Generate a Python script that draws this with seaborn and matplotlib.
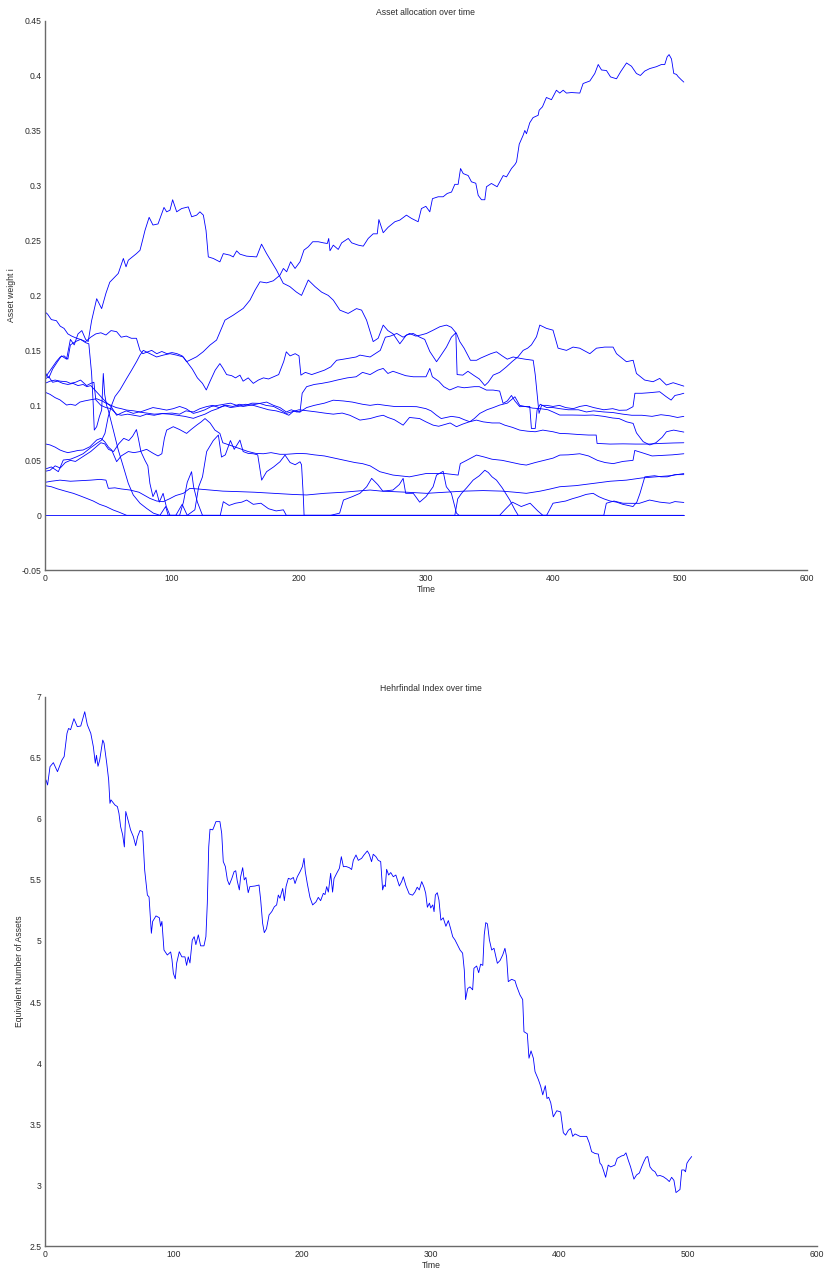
import numpy as np
import pandas as pd
import matplotlib
matplotlib.use("Agg")
import matplotlib.pyplot as plt
import seaborn as sns

# ---------------- data: asset weights (time, weight) ----------------
asset_01 = [(0, .042), (5, .044), (10.5, .0397), (14.4, .0503), (20, .051), (25, .0533), (30, .056), (35.4, .061),
            (40.7, .0654), (44.6, .0685), (47.2, .0745), (49.8, .0897), (52.5, .1003), (55.1, .108), (59, .114),
            (64.3, .1245), (68.2, .132), (72.2, .14), (74.8, .1457), (77.4, .150), (82.6, .147), (87.9, .144),
            (93.1, .1457), (98.4, .147), (103.6, .1457), (108.9, .144), (111.5, .1397), (119.4, .1442), (124.6, .1488),
            (129.9, .1548), (135.1, .1594), (139, .170), (141.7, .1775), (148.2, .182), (156.1, .1882), (161.4, .1957),
            (165.4, .2048), (169.3, .2124), (174.5, .2114), (179.8, .2133), (185, .2184), (187.7, .2245), (190.3, .2215),
            (193.4, .2306), (196.9, .2245), (200.8, .2306), (203.9, .2412), (207.3, .2442), (210.8, .2488), (215.2, .2488),
            (219.2, .2478), (222.3, .2472), (223.4, .2518), (224.4, .2406), (227, .2457), (230.9, .2418), (233.6, .2478),
            (238.8, .2518), (241.5, .2478), (246.7, .2457), (250.6, .2448), (254.5, .2518), (258.4, .256), (261.6, .256),
            (262.9, .269), (266.3, .257), (270.2, .262), (275.5, .267), (279.4, .2685), (284.6, .273), (288.6, .27),
            (293.8, .267), (296.4, .279), (299.9, .281), (303, .276), (305.1, .288), (309.6, .2897), (313.5, .2897),
            (316.7, .2927), (320.1, .294), (322.7, .301), (325.3, .301), (327.2, .3154), (329.3, .3108), (333.2, .309),
            (335.8, .3033), (339.2, .302), (341.1, .291), (343.7, .287), (346.3, .287), (347.6, .2988), (351.5, .3018),
            (356, .2988), (360.8, .309), (363.4, .3078), (367.3, .3154), (370, .319), (371.3, .3215), (373.4, .3375),
            (376.5, .3457), (377.8, .350), (379.1, .347), (381.7, .357), (384.3, .3617), (388.3, .3638), (389.1, .3684),
            (391.7, .3715), (394.8, .38), (398.8, .378), (402.7, .3866), (405.3, .384), (408, .3866), (410.6, .384),
            (414.5, .3845), (421.1, .384), (423.7, .3927), (429, .395), (432.9, .4018), (435.6, .410), (438.2, .405),
            (442.1, .4045), (445.3, .3987), (450, .397), (453.2, .4033), (457.9, .4114), (461.8, .4084), (465.7, .4018),
            (468.8, .400), (472.2, .404), (476.2, .4063), (481.4, .408), (485.4, .410), (488, .410), (489.9, .417),
            (491.4, .419), (493.3, .415), (495.1, .4018), (497.2, .401), (498.5, .399), (501.1, .396), (503, .394)]

asset_02 = [(0, .13), (3, .125), (6, .133), (10, .14), (13, .145), (17, .142), (20, .16), (23, .155), (26, .165),
            (29, .168), (32, .16), (34, .158), (36.7, .177), (40.7, .197), (44.6, .188), (48, .202), (51, .212),
            (57.7, .22), (61.7, .2336), (63.8, .226), (65.6, .232), (72, .238), (74.8, .241), (77, .251), (78.7, .259),
            (82, .271), (85, .264), (89, .265), (93.7, .28), (95.8, .276), (98.4, .2775), (100.5, .287), (103.7, .276),
            (107.6, .279), (112.8, .2805), (115.5, .2715), (119.4, .273), (122, .276), (124.7, .273), (126.8, .259),
            (128.6, .235), (132.5, .2336), (137.7, .2305), (140.4, .238), (145.6, .2366), (148.2, .235), (150.9, .2405),
            (153.5, .2375), (158.7, .2357), (166.6, .235), (170.5, .2466), (174.5, .238), (178.4, .2305), (182.3, .223),
            (187.6, .211), (192.8, .208), (198, .203), (202, .2), (207.3, .214), (212.6, .208), (217.8, .203), (223, .2),
            (227, .1957), (232.2, .1866), (238.7, .1836), (245.3, .188), (249.3, .1866), (253.2, .1775), (258.4, .158),
            (262.3, .161), (266.3, .173), (270, .168), (274.1, .165), (279.4, .156), (284.6, .164), (289.9, .1654),
            (295.1, .162), (299, .16), (303, .149), (308.3, .1397), (310.9, .144), (316.1, .153), (320, .162),
            (323.5, .166), (324.5, .128), (329, .1275), (333, .131), (338, .127), (342, .124), (346.3, .118), (349, .121),
            (352.9, .1275), (358, .13), (363.3, .135), (368, .14), (372.5, .1442), (376.5, .150), (380, .152), (383, .155),
            (387, .1624), (389.6, .173), (394.9, .17), (400, .1684), (404, .152), (410.6, .150), (415.8, .153),
            (421, .152), (429, .147), (434.2, .152), (440.7, .153), (447.3, .153), (450, .147), (457.8, .1397),
            (463.1, .141), (465.7, .129), (472.2, .123), (478.8, .1215), (484, .1245), (489.3, .1185), (494.6, .1206),
            (503, .1175)]

asset_03 = [(0, .185), (2, .183), (5, .178), (9, .177), (12, .172), (15, .17), (18, .165), (21, .163), (25, .161),
            (28, .16), (32, .157), (34.5, .156), (36.7, .129), (38, .10), (38.8, .0775), (40.7, .0806), (42.8, .0897),
            (44.6, .0957), (45.9, .129), (47, .11), (48.5, .10), (49.8, .0957), (53.8, .0775), (57.7, .0594),
            (61.7, .0442), (65.6, .029), (69.5, .0185), (74.8, .011), (80, .0063), (85.3, .002), (90.5, 0), (95, .008),
            (97, 0), (103, 0), (108, .01), (112, 0), (118, .005), (121, .026), (124, .035), (127.3, .058), (132.5, .068),
            (136.5, .073), (139, .053), (142, .055), (146, .068), (149, .06), (153.5, .0684), (156, .058), (160, .0563),
            (164, .056), (167.5, .055), (170.6, .032), (174.5, .0397), (180, .044), (185, .0487), (189, .0548),
            (193, .048), (197, .046), (200.8, .0487), (202, .046), (203.4, .017), (204, 0), (215, 0), (225, 0),
            (232, .002), (235, .0139), (242, .017), (248, .02), (253.3, .026), (257.2, .0336), (262, .028), (266, .022),
            (274, .023), (279, .028), (282, .0336), (284, .02), (290, .02), (295, .012), (300, .017), (305.6, .026),
            (308.3, .0366), (313.5, .04), (316, .026), (320, .02), (324, .002), (326, 0), (358, 0), (362, .005),
            (368, .012), (375, .008), (382, .011), (388, .004), (392, 0), (503, 0)]

asset_04 = [(0, .065), (4, .064), (8, .062), (11.8, .0594), (15, .058), (18, .057), (22.3, .058), (26, .059),
            (30, .0594), (35.4, .0624), (40.7, .0685), (44, .07), (47, .067), (50, .062), (52.5, .0594), (56.4, .0488),
            (60, .054), (65.6, .058), (70, .057), (74.8, .058), (80, .06), (85.3, .0563), (89, .054), (92, .056),
            (94, .07), (95.8, .0775), (101, .0806), (106, .078), (111.5, .0745), (115, .078), (119.4, .082), (123, .085),
            (126, .088), (130, .084), (133.8, .0775), (137.7, .0745), (140, .066), (145, .064), (150, .062), (155, .06),
            (160, .058), (166, .0563), (172, .056), (178, .057), (185, .0555), (190, .0555), (196, .056), (200, .0563),
            (206, .056), (212, .055), (220, .054), (228, .052), (236, .05), (244, .048), (250, .047), (256, .045),
            (263.6, .0397), (274, .0366), (287, .035), (300, .038), (315, .038), (325.3, .0366), (327, .047),
            (332, .05), (339.8, .0548), (346, .053), (352, .051), (360, .05), (368, .048), (374, .0465), (379, .0457),
            (386, .048), (393, .05), (400, .052), (405.4, .0548), (412, .055), (421, .056), (428, .054), (435, .05),
            (441, .048), (447.4, .047), (455, .049), (463, .05), (464.4, .059), (470, .057), (478, .054),
            (486, .0545), (494, .055), (503, .056)]

asset_05 = [(0, .125), (3, .13), (6, .135), (9, .14), (12, .144), (15, .145), (18, .142), (20, .155), (24, .158),
            (28, .16), (32, .158), (36, .162), (40, .165), (44, .166), (48, .164), (52, .168), (56.4, .167), (60, .162),
            (64, .163), (68, .161), (72, .161), (74.8, .150), (77, .147), (84, .15), (88, .147), (92, .149), (96, .147),
            (100, .148), (104, .147), (108, .145), (111.5, .14), (116, .133), (120, .125), (124, .12), (127, .114),
            (130, .122), (134, .132), (137.7, .138), (140, .134), (143, .128), (147, .127), (150, .125), (153.5, .1275),
            (156, .122), (160, .125), (164, .12), (168, .123), (172, .125), (176, .124), (180, .126), (184, .128),
            (188, .14), (190, .1487), (193, .145), (197, .147), (200, .145), (201.5, .1275), (205, .13), (210, .128),
            (215, .13), (220, .132), (225, .135), (229.6, .141), (235, .142), (240, .143), (245, .144), (248, .1457),
            (256, .144), (260, .147), (264, .150), (268, .162), (272, .163), (277, .1654), (282, .162), (287, .1654),
            (292, .163), (296, .164), (300.4, .1654), (305, .168), (310.9, .1715), (316.1, .173), (320, .171),
            (324, .1654), (326.6, .158), (330, .152), (335, .141), (339.8, .141), (343, .143), (347, .145), (351, .147),
            (355.5, .1487), (360, .145), (364, .142), (368.6, .144), (373, .143), (378, .142), (384.4, .141),
            (386, .128), (389, .0927), (391, .1), (395, .1), (400, .099), (405, .1), (410, .098), (416, .097),
            (421, .099), (426, .1), (432, .098), (440, .096), (447, .097), (452, .0955), (458, .0957), (463, .0988),
            (464.5, .111), (470, .111), (476, .1115), (484, .1124), (489, .108), (493, .1048), (496, .109), (500, .11),
            (503, .111)]

asset_06 = [(0, .112), (4, .11), (8, .107), (11.8, .105), (14, .103), (17, .1003), (20, .101), (24, .1), (27.5, .103),
            (31, .104), (35.4, .105), (40.7, .106), (45, .104), (48, .102), (52, .1), (56, .098), (60, .097),
            (64.3, .0957), (70, .095), (75, .094), (80, .096), (85, .098), (90, .097), (95.8, .0957), (101, .097),
            (106, .099), (111, .097), (116.8, .0927), (121, .094), (126, .096), (131, .099), (136, .1), (141, .101),
            (146, .102), (151, .1), (156, .099), (161, .1), (166, .101), (170, .102), (174.5, .103), (180, .1),
            (185, .098), (190, .094), (194, .096), (198, .094), (200.8, .094), (202.5, .111), (206, .117), (212, .119),
            (218, .12), (224.4, .1214), (230, .123), (238, .125), (245, .126), (250, .13), (256, .128), (262, .132),
            (266.3, .1336), (270, .129), (274, .131), (279, .129), (284, .127), (290, .126), (296, .126), (300, .126),
            (303, .1336), (305, .126), (310, .122), (314, .117), (318.7, .114), (325, .117), (330, .116), (338, .117),
            (342, .117), (347.6, .1139), (352.9, .1139), (358, .113), (360.7, .1018), (364, .104), (367.3, .109),
            (370, .104), (373.8, .0988), (378, .099), (381.7, .099), (383, .079), (386, .079), (387.5, .096),
            (390, .101), (395, .098), (400, .098), (405.3, .097), (412, .096), (420, .096), (426.3, .094), (432, .095),
            (440, .094), (447, .0935), (455, .092), (462, .091), (470, .091), (478, .09), (485, .0915), (492, .0905),
            (498, .089), (503, .09)]

asset_07 = [(0, .12), (4, .122), (8, .123), (12, .122), (17, .1215), (20, .12), (24, .121), (28, .123), (32.8, .118),
            (36, .12), (38.5, .121), (40, .105), (44, .1), (48, .098), (52, .097), (56.4, .092), (60, .091), (65, .092),
            (70, .091), (75, .09), (80, .092), (86, .091), (92, .0925), (98, .092), (104, .091), (110, .09),
            (116.8, .0882), (121, .09), (126, .092), (131, .095), (136, .097), (141, .1), (146, .098), (152, .099),
            (158, .101), (164, .1), (170, .098), (176, .096), (182, .095), (188, .093), (192, .091), (196, .095),
            (200.8, .094), (206, .098), (212, .1), (220, .102), (227, .1047), (235, .104), (242, .103), (250, .101),
            (256, .1), (262, .101), (268, .1), (275, .099), (283, .099), (292.6, .0988), (300, .097), (304, .095),
            (308.3, .091), (312, .088), (316, .089), (320, .09), (326, .089), (330, .087), (334.5, .0851), (338, .088),
            (342.4, .0927), (348, .096), (353, .098), (358.1, .1003), (364, .102), (370, .1078), (373.8, .1),
            (378, .099), (384, .0975), (390, .097), (396, .096), (400, .094), (405.3, .0912), (415, .0912),
            (425, .091), (431.6, .0912), (440, .09), (447, .0885), (452, .088), (458, .085), (463.1, .0836),
            (465.7, .075), (471, .067), (476.2, .064), (481, .066), (486, .071), (489.3, .076), (495, .0775),
            (503, .0757)]

asset_08 = [(0, .124), (3, .126), (6, .121), (10, .122), (14, .12), (18, .119), (22, .12), (26, .118), (30, .119),
            (33, .117), (36, .118), (40, .113), (44, .108), (48, .103), (52, .099), (56.4, .091), (60, .093), (64, .095),
            (69.5, .0927), (74, .094), (80, .093), (86, .092), (95.8, .0927), (100, .093), (106, .092), (111, .095),
            (116.8, .094), (122, .097), (127, .0988), (132, .1), (137, .098), (143, .1), (148, .099), (153, .101),
            (158, .1), (163, .102), (169, .1018), (174, .1), (180, .099), (185, .096), (190, .0927), (194, .094),
            (200, .096), (207, .095), (214, .094), (220, .093), (227, .092), (234, .093), (240, .091), (248, .0866),
            (256, .088), (262, .09), (266.3, .091), (270, .089), (275, .087), (282, .082), (287, .089), (295, .088),
            (300, .085), (305.6, .082), (310, .081), (316, .083), (319, .084), (324, .0806), (329, .083), (334, .085),
            (339.7, .0866), (345, .085), (352, .084), (358, .084), (362, .082), (368, .08), (373.8, .0775),
            (380, .0765), (386, .076), (392, .0775), (400, .076), (405.3, .0745), (412, .0742), (420, .0735),
            (428, .073), (434, .073), (434.7, .0654), (445, .0648), (455, .065), (465, .0648), (475, .0648),
            (485, .0654), (495, .0658), (503, .066)]

asset_09 = [(0, .04), (4, .041), (8, .045), (12, .043), (16, .048), (20, .05), (24, .049), (28, .052), (32, .055),
            (36, .058), (40, .062), (44, .066), (47, .065), (50, .06), (54, .058), (58, .065), (62, .07), (66, .068),
            (69, .072), (72, .078), (73.5, .07), (75.5, .058), (78.7, .05), (81, .045), (82.6, .029), (85, .017),
            (87.5, .023), (90, .012), (93, .02), (95.5, .008), (98.4, 0), (106, 0), (109, .012), (112, .03),
            (115.4, .0397), (117, .026), (120, .012), (124, 0), (138, 0), (140.4, .0124), (145, .009), (150, .011),
            (155, .012), (158.8, .0139), (164, .01), (170, .011), (176, .006), (182, .004), (187.7, .005), (190, 0),
            (322.7, 0), (325, .015), (328, .02), (332, .025), (337.1, .032), (342, .036), (346.3, .041), (349, .039),
            (352, .035), (355.5, .032), (360, .025), (366, .0139), (370, .005), (372.6, 0), (440, 0), (442, .011),
            (448, .013), (455, .011), (463, .0109), (468, .0109), (476, .0139), (484, .012), (492, .011),
            (496, .0125), (503, .0117)]

asset_10 = [(0, .03), (5, .031), (11.8, .032), (20, .031), (28, .0315), (36, .032), (43.3, .0327), (48, .032),
            (49.9, .0245), (55, .025), (60, .024), (67, .023), (74, .021), (82.6, .0154), (88, .013), (93.1, .0124),
            (98, .015), (103, .018), (108.9, .02), (114, .0245), (120, .024), (130, .023), (140, .022), (153.5, .0215),
            (165, .021), (180, .02), (195, .019), (206, .0185), (220, .02), (235, .021), (245, .022), (256, .023),
            (265, .022), (275, .0215), (285, .021), (300.4, .02), (315, .021), (330, .022), (345, .0225), (360, .022),
            (370, .021), (379, .02), (390, .022), (398, .024), (405.3, .026), (418, .027), (431.6, .029), (445, .031),
            (457.8, .032), (470, .034), (481, .035), (492, .036), (503, .038)]

asset_11 = [(0, .027), (5, .026), (10, .024), (16, .022), (22.3, .02), (27, .018), (32.8, .0154), (38, .013),
            (43, .01), (48, .008), (53.8, .0048), (58, .003), (64.3, 0), (395, 0), (400, .011), (405, .012),
            (410, .013), (415, .015), (421, .017), (426, .019), (431.6, .02), (436, .017), (440, .015), (445, .013),
            (450, .012), (455, .01), (463, .008), (466, .012), (468.5, .02), (472.3, .035), (476, .0355), (480, .036),
            (485, .035), (490, .035), (496, .037), (503, .037)]

asset_12 = [(0, 0.0), (503, 0.0)]

# ---------------- data: Herfindahl equivalent number of assets ----------------
hhi_series = [(0.8, 6.318), (2, 6.277), (3.9, 6.427), (6.5, 6.46), (9.7, 6.386), (13.1, 6.48), (14.9, 6.51),
              (17.1, 6.70), (18.3, 6.74), (19.9, 6.73), (22.5, 6.82), (25.1, 6.755), (27.8, 6.76), (30.9, 6.877),
              (32.9, 6.77), (35.6, 6.70), (37.6, 6.59), (39.1, 6.455), (40, 6.52), (41.2, 6.43), (42.5, 6.48),
              (44.9, 6.645), (45.9, 6.62), (48, 6.455), (49.5, 6.318), (50.5, 6.127), (51.3, 6.155), (54.4, 6.113),
              (56.3, 6.10), (57.5, 6.045), (58.8, 5.936), (60.4, 5.868), (61.7, 5.77), (62.8, 6.06), (64.9, 5.977),
              (66.5, 5.91), (68.7, 5.854), (70.5, 5.78), (72, 5.854), (73.9, 5.905), (75.9, 5.895), (77.5, 5.58),
              (79.6, 5.376), (80.9, 5.36), (82.7, 5.063), (83.7, 5.16), (86.3, 5.205), (88.9, 5.19), (89.9, 5.12),
              (90.9, 5.16), (92.5, 4.926), (95.1, 4.885), (97.7, 4.91), (98.7, 4.85), (99.8, 4.735), (101.3, 4.69),
              (102.4, 4.82), (104.4, 4.912), (106.4, 4.87), (108.8, 4.87), (110.1, 4.80), (111.4, 4.87), (112.7, 4.82),
              (114.5, 5.008), (116, 5.035), (117.3, 4.97), (119.2, 5.05), (121, 4.96), (123.6, 4.96), (125.1, 5.035),
              (126.2, 5.31), (127.3, 5.77), (128.3, 5.915), (130.4, 5.91), (131.4, 5.935), (132.9, 5.977), (136, 5.977),
              (137.4, 5.88), (138.6, 5.65), (140.2, 5.61), (141.8, 5.50), (143.3, 5.46), (145.2, 5.51), (147, 5.567),
              (148.3, 5.575), (149.5, 5.49), (151.1, 5.418), (152.1, 5.525), (153.7, 5.60), (154.9, 5.50),
              (156.2, 5.52), (158, 5.395), (159.3, 5.445), (163.3, 5.45), (166.4, 5.458), (167.7, 5.335),
              (169.2, 5.145), (170.5, 5.068), (172.2, 5.10), (174.2, 5.213), (176.3, 5.24), (178.3, 5.28),
              (180.1, 5.295), (181.4, 5.376), (182.7, 5.35), (184.8, 5.43), (186.1, 5.33), (187.4, 5.445),
              (189.2, 5.513), (191, 5.505), (193.1, 5.52), (194.4, 5.47), (196.2, 5.526), (198.3, 5.567),
              (200.1, 5.608), (201.4, 5.677), (202.4, 5.567), (203.9, 5.472), (206, 5.357), (208.1, 5.295),
              (210.7, 5.32), (212.5, 5.357), (214.3, 5.33), (216.4, 5.39), (217.7, 5.38), (219, 5.445), (220.3, 5.40),
              (222.1, 5.554), (223.6, 5.40), (224.7, 5.51), (226.8, 5.554), (228.9, 5.595), (230.4, 5.69),
              (232, 5.608), (234, 5.61), (236.6, 5.60), (238.4, 5.585), (239.7, 5.66), (241.8, 5.704), (243.6, 5.66),
              (246.2, 5.677), (248, 5.704), (250.6, 5.737), (252.1, 5.71), (253.9, 5.649), (255.2, 5.71),
              (257.3, 5.69), (259.1, 5.66), (261, 5.65), (262.5, 5.418), (263.6, 5.458), (264.6, 5.445),
              (265.6, 5.587), (267.2, 5.54), (268.8, 5.56), (270.8, 5.526), (272.8, 5.54), (275.5, 5.45),
              (277.3, 5.486), (278.6, 5.526), (280.7, 5.45), (283.2, 5.385), (285.8, 5.375), (287.6, 5.40),
              (289.4, 5.44), (291, 5.418), (292.9, 5.486), (294.7, 5.44), (296, 5.39), (297.3, 5.276), (298.9, 5.31),
              (299.9, 5.27), (301.5, 5.295), (302.5, 5.24), (303.5, 5.376), (305, 5.395), (306.3, 5.335),
              (307.8, 5.17), (309.6, 5.19), (311.7, 5.12), (313.6, 5.167), (315.4, 5.10), (317, 5.035),
              (318.8, 5.008), (320.6, 4.97), (322.7, 4.926), (324.7, 4.9), (326, 4.762), (327, 4.52), (328.6, 4.61),
              (330.4, 4.624), (332.5, 4.60), (333.5, 4.776), (335.6, 4.795), (337.2, 4.74), (338.7, 4.81),
              (340.4, 4.80), (341.5, 5.05), (342.7, 5.15), (344, 5.14), (345.5, 5.01), (347.3, 4.926), (349.1, 4.94),
              (351.7, 4.817), (353.8, 4.84), (355.9, 4.886), (357.6, 4.94), (358.9, 4.87), (360.2, 4.667),
              (362.8, 4.686), (365.4, 4.675), (366.7, 4.63), (369.3, 4.558), (371.4, 4.52), (372.4, 4.257),
              (375, 4.24), (376.3, 4.04), (377.9, 4.10), (379.7, 4.04), (381, 3.93), (383.6, 3.865), (385.4, 3.81),
              (387, 3.74), (389, 3.815), (390.3, 3.71), (391.6, 3.72), (393.2, 3.676), (395.2, 3.56), (397.9, 3.61),
              (400.9, 3.60), (403, 3.43), (404.8, 3.41), (406.9, 3.45), (408.7, 3.465), (410.3, 3.40), (412.1, 3.42),
              (416, 3.40), (421.2, 3.40), (423.2, 3.345), (425, 3.275), (427.6, 3.26), (430.2, 3.255), (431.5, 3.18),
              (432.8, 3.165), (434.1, 3.125), (435.9, 3.065), (437.9, 3.165), (439.8, 3.15), (443.1, 3.165),
              (444.9, 3.22), (448.3, 3.24), (450.1, 3.245), (451.7, 3.265), (453.5, 3.205), (455.3, 3.15),
              (457.9, 3.05), (460, 3.085), (462.1, 3.10), (463.9, 3.15), (465.7, 3.195), (467.3, 3.229),
              (468.6, 3.235), (470.4, 3.15), (472.2, 3.125), (474.3, 3.11), (476.1, 3.075), (478.1, 3.08),
              (480.7, 3.07), (483.4, 3.05), (485.4, 3.03), (487.2, 3.065), (489, 3.04), (490.6, 2.94), (492.4, 2.955),
              (493.7, 2.965), (495.1, 3.125), (496.9, 3.125), (498, 3.11), (499.1, 3.18), (500.6, 3.205),
              (502.8, 3.235)]

asset_names = ["asset 1", "asset 2", "asset 3", "asset 4", "asset 5", "asset 6",
               "asset 7", "asset 8", "asset 9", "asset 10", "asset 11", "asset 12"]
assets = [asset_01, asset_02, asset_03, asset_04, asset_05, asset_06,
          asset_07, asset_08, asset_09, asset_10, asset_11, asset_12]

titles = ["Asset allocation over time", "Hehrfindal Index over time"]
ylabels = ["Asset weight i", "Equivalent Number of Assets"]
xlabel = "Time"

# ---------------- build tables ----------------
rows = []
for name, pts in zip(asset_names, assets):
    for t, w in pts:
        rows.append((name, t, w))
weights_df = pd.DataFrame(rows, columns=["asset", "time", "weight"])
hhi_df = pd.DataFrame(hhi_series, columns=["time", "neq"])

# ---------------- style ----------------
sns.set_theme(style="white")
plt.rcParams["font.family"] = ["Liberation Sans", "DejaVu Sans"]

BLUE = "#0000ff"
TXT = "#2b2b2b"
AX = "#6a6a6a"

fig = plt.figure(figsize=(8.24, 12.69), dpi=100)
ax1 = fig.add_axes([0.05461, 0.55059, 0.92476, 0.43325])
ax2 = fig.add_axes([0.05461, 0.01789, 0.93653, 0.43310])

palette = {n: BLUE for n in asset_names}
sns.lineplot(data=weights_df, x="time", y="weight", hue="asset", palette=palette,
             estimator=None, legend=False, linewidth=0.6, ax=ax1)
sns.lineplot(data=hhi_df, x="time", y="neq", color=BLUE, estimator=None,
             linewidth=0.6, ax=ax2)


def fmt(v, p):
    v = round(v, 4)
    if abs(v) < 1e-9:
        return "0"
    return f"{v:g}"


for ax, ttl, yl, lim, step in [(ax1, titles[0], ylabels[0], (-0.05, 0.45), 0.05),
                               (ax2, titles[1], ylabels[1], (2.5, 7.0), 0.5)]:
    ax.set_xlim(0, 600)
    ax.set_ylim(*lim)
    ax.set_xticks(np.arange(0, 601, 100))
    ax.set_yticks(np.arange(lim[0], lim[1] + step / 2, step))
    ax.yaxis.set_major_formatter(matplotlib.ticker.FuncFormatter(fmt))
    ax.xaxis.set_major_formatter(matplotlib.ticker.FuncFormatter(fmt))
    for s in ["top", "right"]:
        ax.spines[s].set_visible(False)
    for s in ["left", "bottom"]:
        ax.spines[s].set_color(AX)
        ax.spines[s].set_linewidth(1.0)
    ax.tick_params(direction="in", length=5.5, width=0.8, color=AX, labelcolor=TXT,
                   labelsize=6.2, pad=2.5)
    ax.set_title(ttl, fontsize=6.2, color=TXT, pad=4)
    ax.set_ylabel(yl, fontsize=6.2, color=TXT, labelpad=4)
    ax.set_xlabel(xlabel, fontsize=6.2, color=TXT, labelpad=1.5)
    ax.set_facecolor("white")
    ax.grid(False)

fig.savefig("out.png", dpi=100, facecolor="white")
